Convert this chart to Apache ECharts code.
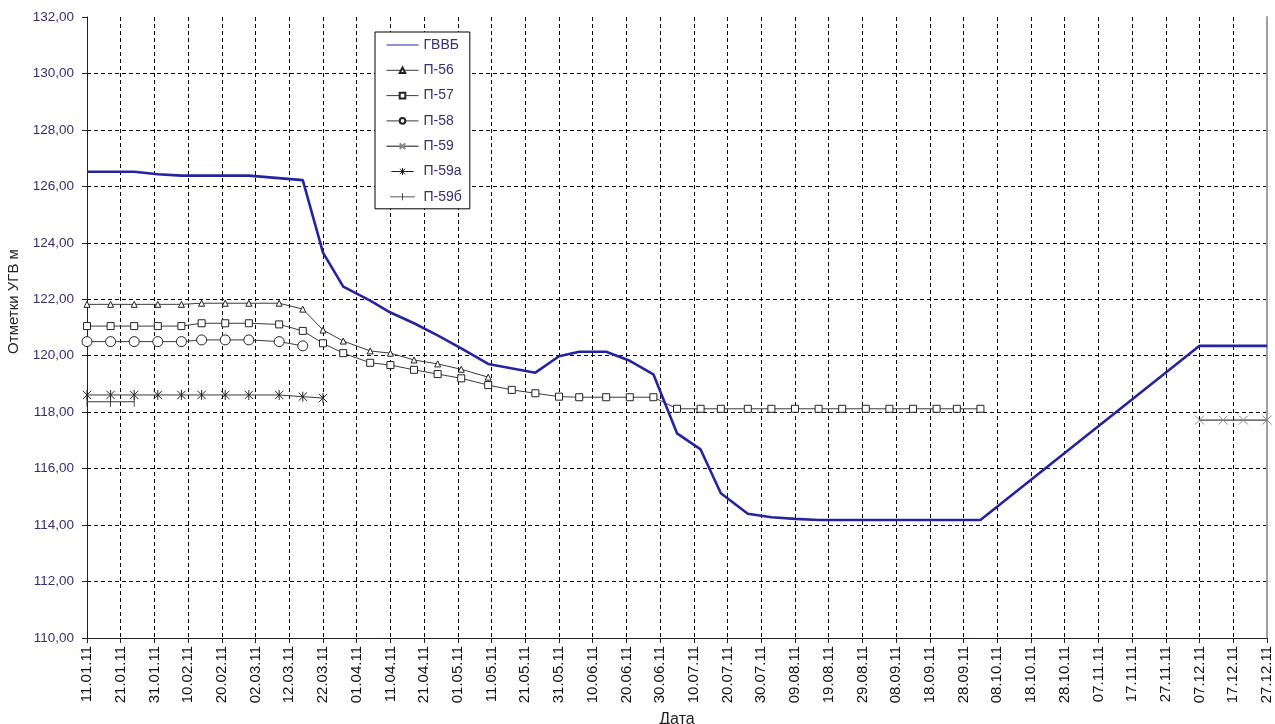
<!DOCTYPE html>
<html>
<head>
<meta charset="utf-8">
<script src="https://cdn.jsdelivr.net/npm/echarts@6/dist/echarts.min.js"></script>
<style>
html,body{margin:0;padding:0;background:#fff;}
#chart{width:1275px;height:724px;}
</style>
</head>
<body>
<div id="chart"></div>
<script>
// ---- data ----
const startDate = '11.01.11';
const endDate = '27.12.11';
const yTicks = [110, 112, 114, 116, 118, 120, 122, 124, 126, 128, 130, 132];

const gvvbDates = ['11.01.11','25.01.11','01.02.11','08.02.11','28.02.11','16.03.11','22.03.11','28.03.11','05.04.11','11.04.11','18.04.11','25.04.11','02.05.11','10.05.11','24.05.11','31.05.11','06.06.11','14.06.11','21.06.11','28.06.11','05.07.11','12.07.11','18.07.11','26.07.11','02.08.11','09.08.11','16.08.11','03.10.11','07.12.11','27.12.11'];
const gvvbValues = [126.52,126.52,126.43,126.38,126.38,126.22,123.65,122.45,121.95,121.53,121.15,120.72,120.26,119.71,119.40,119.98,120.14,120.14,119.82,119.34,117.25,116.68,115.13,114.40,114.28,114.22,114.18,114.18,120.35,120.35];

const pDates = ['11.01.11','18.01.11','25.01.11','01.02.11','08.02.11','14.02.11','21.02.11','28.02.11','09.03.11','16.03.11','22.03.11','28.03.11','05.04.11','11.04.11','18.04.11','25.04.11','02.05.11','10.05.11','17.05.11','24.05.11','31.05.11','06.06.11','14.06.11','21.06.11','28.06.11','05.07.11','12.07.11','18.07.11','26.07.11','02.08.11','09.08.11','16.08.11','23.08.11','30.08.11','06.09.11','13.09.11','20.09.11','26.09.11','03.10.11'];

const p56Values = [121.82,121.82,121.82,121.82,121.82,121.86,121.86,121.86,121.86,121.65,120.91,120.52,120.17,120.09,119.85,119.71,119.52,119.24];
const p57Values = [121.05,121.05,121.05,121.05,121.05,121.15,121.15,121.15,121.11,120.88,120.44,120.09,119.75,119.67,119.50,119.35,119.20,118.96,118.79,118.67,118.55,118.53,118.53,118.53,118.53,118.12,118.12,118.12,118.12,118.12,118.12,118.12,118.12,118.12,118.12,118.12,118.12,118.12,118.12];
const p58Values = [120.50,120.50,120.50,120.50,120.50,120.56,120.56,120.56,120.50,120.35];
const p59Dates = ['07.12.11','14.12.11','20.12.11','27.12.11'];
const p59Values = [117.72,117.72,117.72,117.72];
const p59aValues = [118.61,118.61,118.61,118.61,118.61,118.61,118.61,118.61,118.61,118.55,118.50];
const p59bDates = ['11.01.11','18.01.11','25.01.11'];
const p59bValues = [118.37,118.37,118.37];

// ---- helpers ----
function toUTC(s){ const p = s.split('.'); return Date.UTC(2000 + (+p[2]), (+p[1]) - 1, +p[0]); }
const t0 = toUTC(startDate);
function dayOf(s){ return Math.round((toUTC(s) - t0) / 864e5); }
function pairs(dates, values){ return values.map((v, i) => [dayOf(dates[i]), v]); }
function fmtDay(v){
  const d = new Date(t0 + v * 864e5);
  const dd = String(d.getUTCDate()).padStart(2,'0');
  const mm = String(d.getUTCMonth()+1).padStart(2,'0');
  const yy = String(d.getUTCFullYear()).slice(2);
  return dd + '.' + mm + '.' + yy;
}

const FONT = "'Liberation Sans', Arial, sans-serif";
const LBL = '#35306e';
const GREY = '#3a3a3a';

const xSymbol = 'path://M0,0L10,10M10,0L0,10';
const starSymbol = 'path://M0,0L10,10M10,0L0,10M5,-1L5,11';
const tickSymbol = 'path://M4.6,0L5.4,0L5.4,10L4.6,10Z';

// legend icons (line + marker)
const lgStar = 'path://M0,5L32,5M12.5,1L19.5,9M19.5,1L12.5,9M16,0L16,10';
const lgTick = 'path://M0,4.5L32,4.5L32,5.5L0,5.5ZM15.5,0.5L16.5,0.5L16.5,9.5L15.5,9.5Z';

function pSeries(name, data, symbol, size, extra){
  return Object.assign({
    name: name, type: 'line', data: data,
    symbol: symbol, symbolSize: size, showSymbol: true, symbolKeepAspect: true,
    lineStyle: { color: GREY, width: 1 },
    itemStyle: { color: '#fff', borderColor: '#222', borderWidth: 1 },
    emphasis: { disabled: true }, animation: false, z: 3
  }, extra || {});
}

const chart = echarts.init(document.getElementById('chart'), null, { renderer: 'canvas' });
chart.setOption({
  backgroundColor: '#fff',
  animation: false,
  textStyle: { fontFamily: FONT },
  grid: { left: 87, right: 8, top: 17, bottom: 86, containLabel: false, outerBoundsMode: 'none' },
  legend: {
    orient: 'vertical', left: 375, top: 32,
    padding: [6, 8, 5, 11],
    itemWidth: 32, itemHeight: 7, itemGap: 11.3,
    backgroundColor: '#fff', borderColor: '#000', borderWidth: 1, borderRadius: 0,
    lineStyle: { width: 1 },
    textStyle: { color: LBL, fontSize: 14, fontFamily: FONT },
    data: [
      { name: 'ГВВБ', itemStyle: { opacity: 0 } },
      'П-56', 'П-57', 'П-58', 'П-59',
      { name: 'П-59а', icon: lgStar, itemStyle: { color: 'rgba(0,0,0,0)', borderColor: '#222', borderWidth: 1 } },
      { name: 'П-59б', icon: lgTick, itemStyle: { color: '#222', borderWidth: 0 } }
    ]
  },
  xAxis: {
    type: 'value', min: 0, max: dayOf(endDate), interval: 10,
    name: 'Дата', nameLocation: 'middle', nameGap: 67,
    nameTextStyle: { color: '#222', fontSize: 16, fontFamily: FONT },
    axisLine: { show: true, lineStyle: { color: '#222', width: 1 } },
    axisTick: { show: true, length: 5, lineStyle: { color: '#222' } },
    axisLabel: { rotate: 90, margin: 8, color: '#111', fontSize: 15, fontFamily: FONT, formatter: fmtDay, showMaxLabel: true, showMinLabel: true },
    splitLine: { show: true, lineStyle: { color: '#000', type: [4, 3], width: 1 } }
  },
  yAxis: [{
    type: 'value', min: yTicks[0], max: yTicks[yTicks.length-1], interval: 2,
    name: 'Отметки УГВ м', nameLocation: 'middle', nameGap: 64, nameRotate: 90,
    nameTextStyle: { color: '#222', fontSize: 15, fontFamily: FONT, padding: [0, 0, 0, 52] },
    axisLine: { show: true, lineStyle: { color: '#222', width: 1 } },
    axisTick: { show: true, length: 5, lineStyle: { color: '#222' } },
    axisLabel: { margin: 13, color: LBL, fontSize: 13.5, fontFamily: FONT, formatter: v => v.toFixed(2).replace('.', ',') },
    splitLine: { show: true, showMaxLine: false, lineStyle: { color: '#000', type: [4, 3], width: 1 } }
  }, {
    type: 'value', position: 'right', min: yTicks[0], max: yTicks[yTicks.length-1], interval: 2,
    axisLine: { show: true, lineStyle: { color: '#a0a0a0', width: 2 } },
    axisTick: { show: false }, axisLabel: { show: false }, splitLine: { show: false }
  }],
  series: [
    {
      name: 'ГВВБ', type: 'line', data: pairs(gvvbDates, gvvbValues),
      symbol: 'none', showSymbol: false,
      lineStyle: { color: '#2424a0', width: 2.6 },
      itemStyle: { color: '#2424a0' },
      emphasis: { disabled: true }, z: 4
    },
    pSeries('П-56', pairs(pDates, p56Values), 'triangle', 6),
    pSeries('П-57', pairs(pDates, p57Values), 'rect', 7),
    pSeries('П-58', pairs(pDates, p58Values), 'circle', 10),
    pSeries('П-59', pairs(p59Dates, p59Values), xSymbol, 9, { itemStyle: { color: '#fff', borderColor: '#888', borderWidth: 1 }, lineStyle: { color: '#111', width: 1 } }),
    pSeries('П-59а', pairs(pDates, p59aValues), starSymbol, 10),
    pSeries('П-59б', pairs(p59bDates, p59bValues), tickSymbol, 10, { itemStyle: { color: '#222', borderWidth: 0 } })
  ]
});
</script>
</body>
</html>
